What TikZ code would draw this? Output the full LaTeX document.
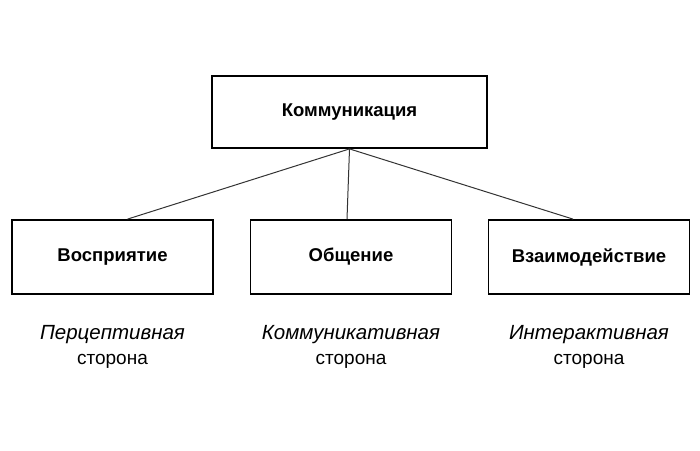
\documentclass[tikz,border=0pt]{standalone}
\usepackage{fontspec}
\setmainfont{Liberation Sans}
\usetikzlibrary{positioning}

\begin{document}
\begin{tikzpicture}[
  x=1pt, y=-1pt,
  box/.style={draw=black, line width=1.8pt, inner sep=0pt,
    minimum width=201pt, minimum height=74pt,
    font=\fontsize{18.5}{22}\selectfont\bfseries},
  ln/.style={line width=1pt, draw=black!80},
  side/.style={align=center, font=\fontsize{19}{25}\selectfont},
]
\useasboundingbox (0,0) rectangle (700,450);
% top node
\node[box, minimum width=275pt, minimum height=72pt] (komm) at (349.5,112)
  {Коммуникация};
% three sides
\foreach \n/\t/\x/\s/\d in {
    vosp/Восприятие/112.5/Перцептивная/15,
    obsh/Общение/351/Коммуникативная/-4,
    vzai/Взаимодействие/589/Интерактивная/-16} {
  \node[box] (\n) at (\x,257) {\t};
  \draw[ln] (komm.south) -- ([xshift=\d pt]\n.north);
  \node[side] (\n l) at (\x,347)
    {{\fontsize{20.5}{25}\selectfont\itshape\s}\\сторона};
}
\end{tikzpicture}
\end{document}
